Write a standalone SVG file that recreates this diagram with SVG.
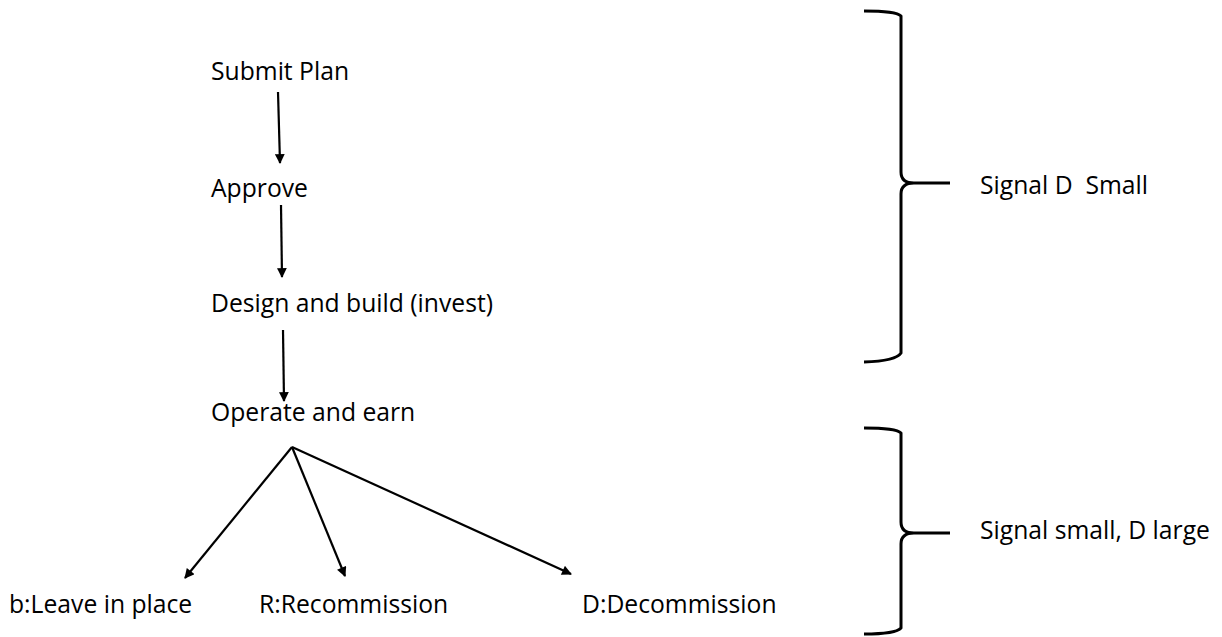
<svg xmlns="http://www.w3.org/2000/svg" width="1222" height="637" viewBox="0 0 1222 637">
<style>
text{font-family:"Open Sans","Liberation Sans",sans-serif;font-size:24.7px;fill:#000;white-space:pre}
.c{stroke:#000;stroke-width:2.2;fill:none}
.b{stroke:#000;stroke-width:3;fill:none;stroke-linejoin:round}
</style>
<defs>
<marker id="ah" viewBox="0 0 10 10" refX="9" refY="5" markerWidth="5" markerHeight="4.5" orient="auto" markerUnits="strokeWidth">
<path d="M0,0 L10,5 L0,10 z" fill="#000"/>
</marker>
</defs>
<rect width="1222" height="637" fill="#fff"/>
<g id="connectors">
<line class="c" x1="278" y1="92" x2="280" y2="163" marker-end="url(#ah)"/>
<line class="c" x1="281" y1="205" x2="282" y2="277" marker-end="url(#ah)"/>
<line class="c" x1="283" y1="330" x2="284" y2="401" marker-end="url(#ah)"/>
<line class="c" x1="292" y1="447" x2="185" y2="578" marker-end="url(#ah)"/>
<line class="c" x1="292" y1="447" x2="345" y2="576" marker-end="url(#ah)"/>
<line class="c" x1="292" y1="447" x2="571" y2="574" marker-end="url(#ah)"/>
</g>
<g id="submit"><text x="211" y="80">Submit Plan</text></g>
<g id="approve"><text x="211" y="197">Approve</text></g>
<g id="design"><text x="211" y="312">Design and build (invest)</text></g>
<g id="operate"><text x="211" y="421">Operate and earn</text></g>
<g id="leave"><text x="9" y="613">b:Leave in place</text></g>
<g id="recommission"><text x="259" y="613">R:Recommission</text></g>
<g id="decommission"><text x="582" y="613">D:Decommission</text></g>
<g id="brace1">
<path class="b" d="M864,11 Q896,11 901,16 L901,172 Q901,183 914,183 L950,183 M914,183 Q901,183 901,194 L901,353 Q896,361 864,362"/>
<text x="980" y="194" xml:space="preserve">Signal D  Small</text>
</g>
<g id="brace2">
<path class="b" d="M864,428 Q896,428 901,433 L901,522 Q901,533 914,533 L950,533 M914,533 Q901,533 901,544 L901,628 Q896,634 864,634"/>
<text x="980" y="539">Signal small, D large</text>
</g>
</svg>
